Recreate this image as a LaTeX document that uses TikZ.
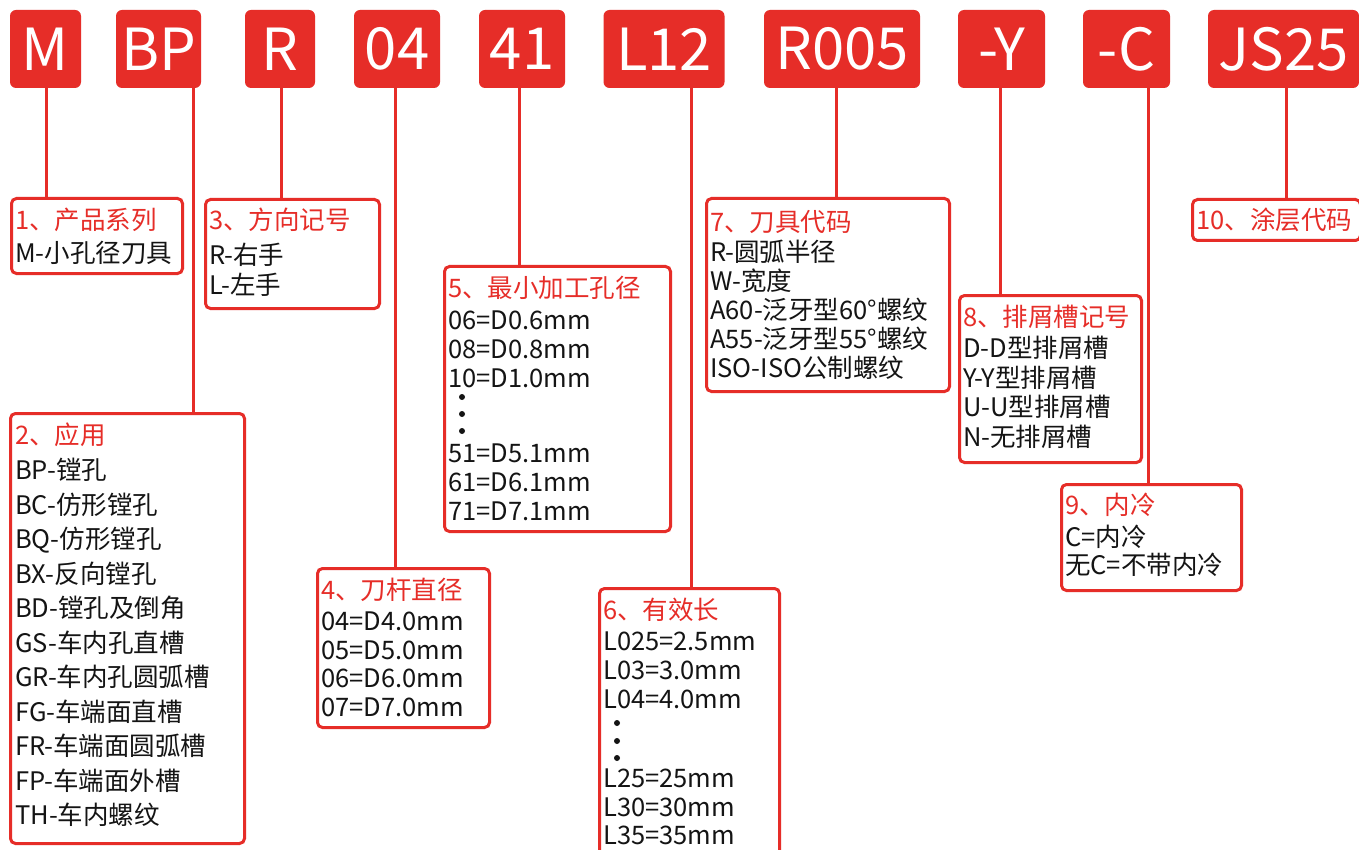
\documentclass[tikz,border=0pt]{standalone}
\usepackage{fontspec}
\setmainfont{Noto Sans CJK SC}
\definecolor{brand}{RGB}{230,45,40}
\definecolor{ink}{RGB}{20,20,20}
\newcommand\tlines[5]{%
  \foreach \t [count=\i from 0] in {#5} {\node[txt] (#1-\i) at (#2,{#3+\i*#4}) {\t};}}
\begin{document}
\begin{tikzpicture}[x=1pt,y=-1pt,
  code/.style={fill=brand, rounded corners=6pt, text=white,
    font=\fontsize{58pt}{60pt}\selectfont, inner sep=0pt, minimum height=78pt},
  abox/.style={draw=brand, line width=3pt, rounded corners=5pt, fill=white,
    inner sep=0pt, anchor=north west},
  ttl/.style={text=brand, font=\fontsize{25.5pt}{30pt}\selectfont, anchor=base west, inner sep=0pt},
  txt/.style={text=ink, font=\fontsize{25.5pt}{30pt}\selectfont, anchor=base west, inner sep=0pt},
  link/.style={draw=brand, line width=3pt},
  dotmark/.style={circle, fill=ink, inner sep=0pt, minimum size=6pt}]
\clip (0,0) rectangle (1359,850);
\fill[white] (0,0) rectangle (1359,850);

% code boxes
\node[code, minimum width=71pt]  (cM)   at (45.5,49) {M};
\node[code, minimum width=85pt]  (cBP)  at (158.5,49) {BP};
\node[code, minimum width=70pt]  (cR)   at (280,49) {R};
\node[code, minimum width=86pt]  (c04)  at (397,49) {04};
\node[code, minimum width=86pt]  (c41)  at (522,49) {41};
\node[code, minimum width=121pt] (cL12) at (664,49) {L12};
\node[code, minimum width=156pt] (cR005) at (842,49) {R005};
\node[code, minimum width=87pt]  (cY)   at (1001.5,49) {-Y};
\node[code, minimum width=87pt]  (cC)   at (1126.5,49) {-C};
\node[code, minimum width=151pt] (cJS)  at (1283.5,49) {JS25};

% annotation boxes
\node[abox, minimum width=171pt, minimum height=75pt]  (b1)  at (10,197) {};
\node[abox, minimum width=234pt, minimum height=430pt] (b2)  at (9,412) {};
\node[abox, minimum width=174pt, minimum height=109pt] (b3)  at (204,198) {};
\node[abox, minimum width=172pt, minimum height=159pt] (b4)  at (316,567) {};
\node[abox, minimum width=226pt, minimum height=265pt] (b5)  at (443,265) {};
\node[abox, minimum width=180pt, minimum height=290pt] (b6)  at (598,587) {};
\node[abox, minimum width=243pt, minimum height=193pt] (b7)  at (705,197) {};
\node[abox, minimum width=182pt, minimum height=167pt] (b8)  at (958,294) {};
\node[abox, minimum width=180pt, minimum height=106pt] (b9)  at (1060,483) {};
\node[abox, minimum width=168pt, minimum height=41pt]  (b10) at (1191,198) {};

% connector columns
\coordinate (k1) at (46,0);
\coordinate (k2) at (193,0);
\coordinate (k3) at (281,0);
\coordinate (k4) at (395,0);
\coordinate (k5) at (519,0);
\coordinate (k6) at (691,0);
\coordinate (k7) at (836,0);
\coordinate (k8) at (1000,0);
\coordinate (k9) at (1148,0);
\coordinate (k10) at (1286,0);

\draw[link] (cM.south -| k1) -- (b1.north -| k1);
\draw[link] (cBP.south -| k2) -- (b2.north -| k2);
\draw[link] (cR.south -| k3) -- (b3.north -| k3);
\draw[link] (c04.south -| k4) -- (b4.north -| k4);
\draw[link] (c41.south -| k5) -- (b5.north -| k5);
\draw[link] (cL12.south -| k6) -- (b6.north -| k6);
\draw[link] (cR005.south -| k7) -- (b7.north -| k7);
\draw[link] (cY.south -| k8) -- (b8.north -| k8);
\draw[link] (cC.south -| k9) -- (b9.north -| k9);
\draw[link] (cJS.south -| k10) -- (b10.north -| k10);

% texts
\node[ttl] (h1) at (15,229.5) {1、产品系列};
\tlines{l1}{15}{262.5}{30}{M-小孔径刀具}

\node[ttl] (h2) at (15,444.5) {2、应用};
\tlines{l2}{15}{479.5}{34.5}{BP-镗孔,BC-仿形镗孔,BQ-仿形镗孔,BX-反向镗孔,BD-镗孔及倒角,GS-车内孔直槽,GR-车内孔圆弧槽,FG-车端面直槽,FR-车端面圆弧槽,FP-车端面外槽,TH-车内螺纹}

\node[ttl] (h3) at (209,229.5) {3、方向记号};
\tlines{l3}{209}{264.5}{30}{R-右手,L-左手}

\node[ttl] (h4) at (321,599.5) {4、刀杆直径};
\tlines{l4}{321}{630.5}{28.5}{04=D4.0mm,05=D5.0mm,06=D6.0mm,07=D7.0mm}

\node[ttl] (h5) at (448,297.5) {5、最小加工孔径};
\tlines{l5a}{448}{329.5}{29}{06=D0.6mm,08=D0.8mm,10=D1.0mm}
\node[dotmark] (d5a) at (462,397) {};
\node[dotmark] (d5b) at (462,414) {};
\node[dotmark] (d5c) at (462,431) {};
\tlines{l5b}{448}{462.5}{29}{51=D5.1mm,61=D6.1mm,71=D7.1mm}

\node[ttl] (h6) at (603,619.5) {6、有效长};
\tlines{l6a}{603}{650.5}{29}{L025=2.5mm,L03=3.0mm,L04=4.0mm}
\node[dotmark] (d6a) at (617,723) {};
\node[dotmark] (d6b) at (617,741) {};
\node[dotmark] (d6c) at (617,758) {};
\tlines{l6b}{603}{787.5}{28.5}{L25=25mm,L30=30mm,L35=35mm}

\node[ttl] (h7) at (710,231.5) {7、刀具代码};
\tlines{l7}{710}{261.5}{29}{R-圆弧半径,W-宽度,A60-泛牙型60°螺纹,A55-泛牙型55°螺纹,ISO-ISO公制螺纹}

\node[ttl] (h8) at (963,326.5) {8、排屑槽记号};
\tlines{l8}{963}{357.5}{29.5}{D-D型排屑槽,Y-Y型排屑槽,U-U型排屑槽,N-无排屑槽}

\node[ttl] (h9) at (1065,514.5) {9、内冷};
\tlines{l9}{1065}{546.5}{28}{C=内冷,无C=不带内冷}

\node[ttl] (h10) at (1196,229.5) {10、涂层代码};
\end{tikzpicture}
\end{document}
